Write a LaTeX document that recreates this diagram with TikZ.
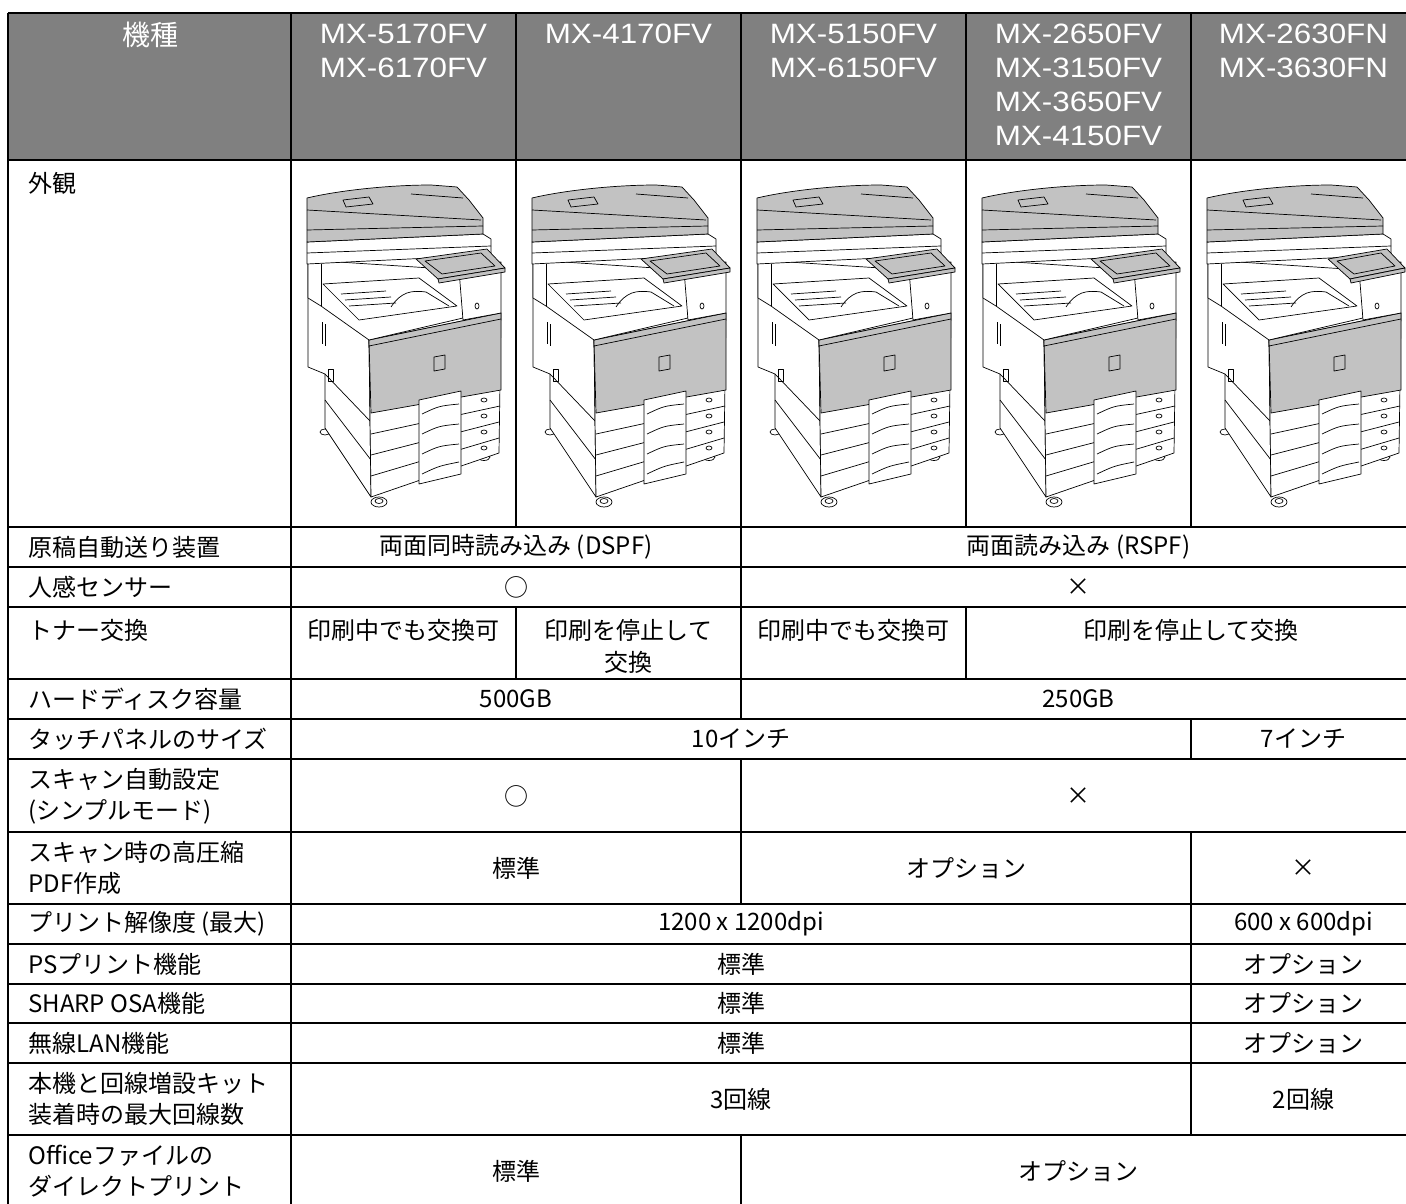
\documentclass[tikz,border=0pt]{standalone}
\usepackage{fontspec}
\setmainfont{Noto Sans CJK JP}
\newfontfamily\hdfont[FakeStretch=1.12]{Liberation Sans}
\definecolor{headgray}{HTML}{808080}
\definecolor{devgray}{HTML}{C2C2C2}
\tikzset{every picture/.style={line width=0.75pt}}
\tikzset{
  tline/.style={line width=1.8pt},
  tborder/.style={line width=2.7pt},
  hdkanji/.style={anchor=north, inner sep=0pt, text=white, font=\fontsize{28}{34}\selectfont},
  hdtext/.style={anchor=north, inner sep=0pt, text=white, align=center, font=\hdfont\fontsize{28}{34}\selectfont},
  rowlbl/.style={anchor=west, inner sep=0pt, align=left, font=\fontsize{24}{31}\selectfont},
  celltxt/.style={anchor=center, inner sep=0pt, align=center, font=\fontsize{24}{32}\selectfont},
  devline/.style={line width=0.7pt, line join=round},
  pics/copier/.style={code={
    % casters
    \filldraw[devline,fill=white] (34,272) ellipse [x radius=5,y radius=3];
    \filldraw[devline,fill=white] (88,342) ellipse [x radius=8,y radius=5];
    \draw[devline] (88,341) ellipse [x radius=4,y radius=2.5];
    \filldraw[devline,fill=white] (193,297) ellipse [x radius=6,y radius=3.5];
    % body left side
    \filldraw[devline,fill=white] (17,100) -- (78,180) -- (80,337) -- (34,268) -- (34,214) -- (17,207) -- cycle;
    \draw[devline] (34,214) -- (80,262);
    \draw[devline] (34,240) -- (80,300);
    \draw[devline] (31,162) -- (31,184) (34,164) -- (34,186);
    \draw[devline] (37,209) rectangle (42,221);
    % body front and door
    \filldraw[devline,fill=white] (78,180) -- (210,153) -- (208,293) -- (80,337) -- cycle;
    \filldraw[devline,fill=devgray] (78,180) -- (210,153) -- (210,230) -- (80,253) -- cycle;
    \draw[devline] (78,186) -- (210,159);
    \draw[devline] (143,197) -- (154,195) -- (154,209) -- (143,211) -- cycle;
    % trays
    \draw[devline] (80,274) -- (209,246) (80,295) -- (208,262) (80,316) -- (208,278);
    \filldraw[devline,fill=white] (128,240) -- (170,231) -- (170,314) -- (128,324) -- cycle;
    \draw[devline] (131,254) .. controls (148,246) .. (168,244);
    \draw[devline] (131,274) .. controls (148,266) .. (168,264);
    \draw[devline] (131,294) .. controls (148,286) .. (168,284);
    \draw[devline] (131,314) .. controls (148,306) .. (168,302);
    \draw[devline] (193,240) ellipse [x radius=3,y radius=2];
    \draw[devline] (193,256) ellipse [x radius=3,y radius=2];
    \draw[devline] (193,272) ellipse [x radius=3,y radius=2];
    \draw[devline] (193,288) ellipse [x radius=3,y radius=2];
    % output area
    \filldraw[devline,fill=white] (17,100) -- (170,110) -- (172,158) -- (78,180) -- (30,146) -- (17,138) -- cycle;
    \draw[devline] (30,104) -- (30,146);
    \draw[devline] (32,124) -- (128,118) -- (166,146) -- (68,160) -- cycle;
    \draw[devline] (50,134) -- (95,131) (54,140) -- (100,137) (58,146) -- (105,143);
    \draw[devline] (100,147) .. controls (110,132) and (120,130) .. (135,132) -- (158,146);
    % right pillar
    \filldraw[devline,fill=white] (168,110) -- (210,102) -- (210,153) -- (172,160) -- cycle;
    \draw[devline] (186,146) ellipse [x radius=2,y radius=3];
    % scanner
    \filldraw[devline,fill=white] (16,82) -- (192,74) -- (200,79) -- (200,95) -- (16,104) -- cycle;
    \draw[devline] (16,93) -- (200,86);
    % document feeder
    \filldraw[devline,fill=devgray] (16,38) .. controls (50,30) and (100,25) .. (140,25) -- (166,27) -- (178,40) -- (192,58) -- (192,74) -- (16,82) -- cycle;
    \draw[devline] (16,50) -- (190,60);
    \draw[devline] (16,70) -- (192,66);
    \draw[devline] (52,40) -- (78,37) -- (82,44) -- (55,47) -- cycle;
    \draw[devline] (120,34) -- (172,38);
    % touch panel
    \filldraw[devline,fill=devgray] (#1,99) -- (196,89) -- (214,108) -- ({#1+22},119) -- cycle;
    \filldraw[devline,fill=devgray] ({#1+22},119) -- (214,108) -- (214,112) -- ({#1+23},123) -- cycle;
    \draw[devline] ({#1+9},101) -- (190,93) -- (204,106) -- ({#1+26},114) -- cycle;
  }}
}

\begin{document}
\begin{tikzpicture}[x=1pt,y=1pt,yscale=-1,xscale=1]
    \useasboundingbox (0,0) rectangle (1406,1204);
    \clip (0,0) rectangle (1406,1204);
    %Header background
    \fill[headgray] (8,13) rectangle (1416,160);
    %Copier pictures
    \pic[transform shape] at (291,160) {copier=125};
    \pic[transform shape] at (516,160) {copier=125};
    \pic[transform shape] at (741,160) {copier=125};
    \pic[transform shape] at (966,160) {copier=125};
    \pic[transform shape] at (1191,160) {copier=137};
    %Straight Lines (rows)
    \draw[tborder] (8,13) -- (1416,13);
    \draw[tborder] (8,160) -- (1416,160);
    \draw[tline] (8,527) -- (1416,527);
    \draw[tline] (8,567) -- (1416,567);
    \draw[tline] (8,607) -- (1416,607);
    \draw[tline] (8,679) -- (1416,679);
    \draw[tline] (8,719) -- (1416,719);
    \draw[tline] (8,759) -- (1416,759);
    \draw[tline] (8,832) -- (1416,832);
    \draw[tline] (8,904) -- (1416,904);
    \draw[tline] (8,944) -- (1416,944);
    \draw[tline] (8,984) -- (1416,984);
    \draw[tline] (8,1023) -- (1416,1023);
    \draw[tline] (8,1063) -- (1416,1063);
    \draw[tline] (8,1135) -- (1416,1135);
    \draw[tline] (8,1207) -- (1416,1207);
    %Straight Lines (columns)
    \draw[tborder] (8,13) -- (8,1207);
    \draw[tline] (291,13) -- (291,1207);
    \draw[tline] (516,13) -- (516,527);
    \draw[tline] (516,607) -- (516,679);
    \draw[tline] (741,13) -- (741,719);
    \draw[tline] (741,759) -- (741,904);
    \draw[tline] (741,1135) -- (741,1207);
    \draw[tline] (966,13) -- (966,527);
    \draw[tline] (966,607) -- (966,679);
    \draw[tline] (1191,13) -- (1191,527);
    \draw[tline] (1191,719) -- (1191,759);
    \draw[tline] (1191,832) -- (1191,1135);
    \draw[tline] (1416,13) -- (1416,1207);
    % Text Node (header)
    \draw (150,22) node (hd-kishu) [hdkanji] {機種};
    \draw (403.5,24) node (hd-5170) [hdtext] {MX-5170FV\\MX-6170FV};
    \draw (628.5,24) node (hd-4170) [hdtext] {MX-4170FV};
    \draw (853.5,24) node (hd-5150) [hdtext] {MX-5150FV\\MX-6150FV};
    \draw (1078.5,24) node (hd-2650) [hdtext] {MX-2650FV\\MX-3150FV\\MX-3650FV\\MX-4150FV};
    \draw (1303.5,24) node (hd-2630) [hdtext] {MX-2630FN\\MX-3630FN};
    % Text Node (row labels)
    \draw (28,183) node (lb-look) [rowlbl] {外観};
    \draw (28,547) node (lb-adf) [rowlbl] {原稿自動送り装置};
    \draw (28,587) node (lb-sensor) [rowlbl] {人感センサー};
    \draw (28,630) node (lb-toner) [rowlbl] {トナー交換};
    \draw (28,699) node (lb-hdd) [rowlbl] {ハードディスク容量};
    \draw (28,739) node (lb-panel) [rowlbl] {タッチパネルのサイズ};
    \draw (28,796) node (lb-autoscan) [rowlbl] {スキャン自動設定\\(シンプルモード)};
    \draw (28,868) node (lb-pdf) [rowlbl] {スキャン時の高圧縮\\PDF作成};
    \draw (28,924) node (lb-dpi) [rowlbl] {プリント解像度 (最大)};
    \draw (28,964) node (lb-ps) [rowlbl] {PSプリント機能};
    \draw (28,1003.5) node (lb-osa) [rowlbl] {SHARP OSA機能};
    \draw (28,1043) node (lb-lan) [rowlbl] {無線LAN機能};
    \draw (28,1099) node (lb-lines) [rowlbl] {本機と回線増設キット\\装着時の最大回線数};
    \draw (28,1171) node (lb-office) [rowlbl] {Officeファイルの\\ダイレクトプリント};
    % Text Node (cells)
    \draw (516,547) node (c-dspf) [celltxt] {両面同時読み込み (DSPF)};
    \draw (1078.5,547) node (c-rspf) [celltxt] {両面読み込み (RSPF)};
    \draw (516,587) node (c-sensor-a) [celltxt] {○};
    \draw (1078.5,587) node (c-sensor-b) [celltxt] {×};
    \draw (403.5,630) node (c-toner-a) [celltxt] {印刷中でも交換可};
    \draw (628.5,646) node (c-toner-b) [celltxt] {印刷を停止して\\交換};
    \draw (853.5,630) node (c-toner-c) [celltxt] {印刷中でも交換可};
    \draw (1191,630) node (c-toner-d) [celltxt] {印刷を停止して交換};
    \draw (516,699) node (c-hdd-a) [celltxt] {500GB};
    \draw (1078.5,699) node (c-hdd-b) [celltxt] {250GB};
    \draw (741,739) node (c-panel-a) [celltxt] {10インチ};
    \draw (1303.5,739) node (c-panel-b) [celltxt] {7インチ};
    \draw (516,796) node (c-autoscan-a) [celltxt] {○};
    \draw (1078.5,796) node (c-autoscan-b) [celltxt] {×};
    \draw (516,868) node (c-pdf-a) [celltxt] {標準};
    \draw (966,868) node (c-pdf-b) [celltxt] {オプション};
    \draw (1303.5,868) node (c-pdf-c) [celltxt] {×};
    \draw (741,924) node (c-dpi-a) [celltxt] {1200 x 1200dpi};
    \draw (1303.5,924) node (c-dpi-b) [celltxt] {600 x 600dpi};
    \draw (741,964) node (c-ps-a) [celltxt] {標準};
    \draw (1303.5,964) node (c-ps-b) [celltxt] {オプション};
    \draw (741,1003.5) node (c-osa-a) [celltxt] {標準};
    \draw (1303.5,1003.5) node (c-osa-b) [celltxt] {オプション};
    \draw (741,1043) node (c-lan-a) [celltxt] {標準};
    \draw (1303.5,1043) node (c-lan-b) [celltxt] {オプション};
    \draw (741,1099) node (c-lines-a) [celltxt] {3回線};
    \draw (1303.5,1099) node (c-lines-b) [celltxt] {2回線};
    \draw (516,1171) node (c-office-a) [celltxt] {標準};
    \draw (1078.5,1171) node (c-office-b) [celltxt] {オプション};
\end{tikzpicture}
\end{document}
